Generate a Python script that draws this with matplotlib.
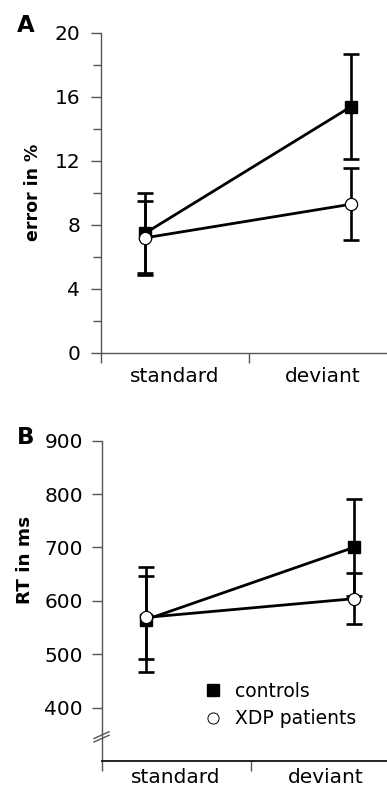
import matplotlib
matplotlib.use("Agg")
import matplotlib.pyplot as plt
from matplotlib.lines import Line2D
import numpy as np

conditions = ["standard", "deviant"]
x_pos = [0.30, 1.69]

err_controls = [7.5, 15.4]
err_controls_sd = [2.5, 3.3]
err_patients = [7.2, 9.3]
err_patients_sd = [2.3, 2.25]

rt_controls = [565, 700]
rt_controls_sd = [98, 90]
rt_patients = [569, 604]
rt_patients_sd = [78, 48]

series_labels = ["controls", "XDP patients"]

W, H = 387, 787
fig = plt.figure(figsize=(W / 100, H / 100), dpi=100)
axis_col = "#555555"

def px(x0, y_top, w, h):
    return [x0 / W, 1 - (y_top + h) / H, w / W, h / H]

axA = fig.add_axes(px(101, 33, 2 * 148, 320))
axB = fig.add_axes(px(101.5, 440.7, 2 * 149.2, 320.3))

def draw(ax, c, csd, p, psd):
    ax.errorbar(x_pos, c, yerr=csd, fmt="none", ecolor="black", elinewidth=1.9,
                capsize=5.8, capthick=1.9, zorder=2)
    ax.errorbar(x_pos, p, yerr=psd, fmt="none", ecolor="black", elinewidth=1.9,
                capsize=5.8, capthick=1.9, zorder=2)
    ax.plot(x_pos, c, color="black", lw=2.0, zorder=3)
    ax.plot(x_pos, p, color="black", lw=2.0, zorder=3)
    ax.plot(x_pos, c, ls="none", marker="s", ms=9.3, mfc="black", mec="black", zorder=4)
    ax.plot(x_pos, p, ls="none", marker="o", ms=8.8, mfc="white", mec="black",
            mew=0.9, zorder=5)

draw(axA, err_controls, err_controls_sd, err_patients, err_patients_sd)
draw(axB, rt_controls, rt_controls_sd, rt_patients, rt_patients_sd)

for ax in (axA, axB):
    ax.set_xlim(0, 2)
    for s in ("top", "right"):
        ax.spines[s].set_visible(False)
    for s in ("left", "bottom"):
        ax.spines[s].set_color(axis_col)
        ax.spines[s].set_linewidth(1.0)
    ax.set_xticks([0, 1, 2])
    ax.set_xticklabels(["", "", ""])
    ax.set_xticks([0.5, 1.5], minor=True)
    ax.set_xticklabels(conditions, minor=True, fontsize=14.5)
    ax.tick_params(axis="x", which="major", length=7, width=1.0, color=axis_col)
    ax.tick_params(axis="x", which="minor", length=0)
    ax.tick_params(axis="y", which="both", direction="out", color=axis_col, width=1.0,
                   labelsize=14.5)
    ax.tick_params(axis="y", which="major", length=7)
    ax.tick_params(axis="y", which="minor", length=6)

axA.set_ylim(0, 20)
axA.set_yticks(np.arange(0, 21, 4))
axA.set_yticks(np.arange(2, 20, 4), minor=True)
axA.tick_params(axis="y", pad=8)
axA.tick_params(axis="x", which="minor", pad=10)

axB.set_ylim(300, 900)
axB.set_yticks(np.arange(400, 901, 100))
axB.tick_params(axis="y", pad=6.5)
axB.tick_params(axis="x", which="minor", pad=5)
axB.spines["bottom"].set_color("#222222")
axB.spines["bottom"].set_linewidth(1.4)

# axis break marks on panel B y-axis
for dy in (0, 3.5):
    fig.add_artist(Line2D([94 / W, 109 / W], [1 - (738.5 + dy) / H, 1 - (731.8 + dy) / H],
                          color=axis_col, lw=1.0))

handles = [
    Line2D([], [], ls="none", marker="s", ms=8, mfc="black", mec="black"),
    Line2D([], [], ls="none", marker="o", ms=8, mfc="white", mec="black", mew=0.7),
]
axB.legend(handles, series_labels, loc="center left",
           bbox_to_anchor=(205 / W, 1 - 705 / H), bbox_transform=fig.transFigure,
           frameon=False, fontsize=13.5, handlelength=0.8, handletextpad=0.8,
           labelspacing=0.45, borderpad=0, borderaxespad=0)

fig.text(33 / W, 1 - 192 / H, "error in %", rotation=90, ha="center", va="center",
         fontsize=12.5, fontweight="bold")
fig.text(25 / W, 1 - 560 / H, "RT in ms", rotation=90, ha="center", va="center",
         fontsize=13.2, fontweight="bold")
fig.text(26 / W, 1 - 26 / H, "A", ha="center", va="center", fontsize=16.5, fontweight="bold")
fig.text(26 / W, 1 - 437 / H, "B", ha="center", va="center", fontsize=16.5, fontweight="bold")

fig.savefig("out.png", dpi=100)
